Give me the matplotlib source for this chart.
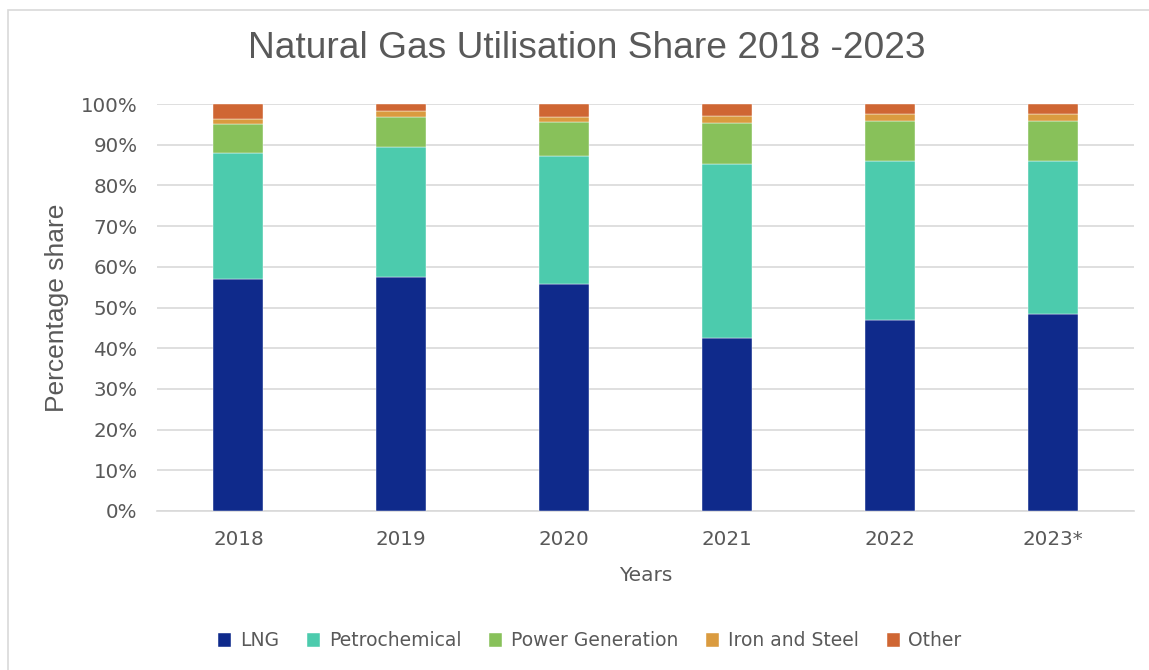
import matplotlib
matplotlib.use("Agg")
import matplotlib.pyplot as plt
from matplotlib.patches import Rectangle
import numpy as np

years = ["2018", "2019", "2020", "2021", "2022", "2023*"]
lng = [57.0, 57.5, 55.8, 42.5, 46.9, 48.4]
petrochemical = [31.0, 31.9, 31.5, 42.7, 39.0, 37.7]
power_generation = [7.0, 7.4, 8.2, 10.2, 10.0, 9.7]
iron_and_steel = [1.2, 1.6, 1.3, 1.7, 1.6, 1.7]
other = [3.8, 1.6, 3.2, 2.9, 2.5, 2.5]

series_names = ["LNG", "Petrochemical", "Power Generation", "Iron and Steel", "Other"]
series = [lng, petrochemical, power_generation, iron_and_steel, other]
colors = ["#0F2A8B", "#4CCBAD", "#88C15A", "#DA9B3F", "#CF6633"]

yticks = [0, 10, 20, 30, 40, 50, 60, 70, 80, 90, 100]
ytick_labels = [f"{v}%" for v in yticks]

txt = "#595959"
fig = plt.figure(figsize=(11.49, 6.70), dpi=100)
fig.patch.set_facecolor("white")
# outer chart frame
fig.patches.append(Rectangle((8 / 1149, -0.1), 1.2, 1 - 10 / 670 + 0.1,
                             transform=fig.transFigure, fill=False,
                             edgecolor="#D9D9D9", linewidth=1.2))

ax = fig.add_axes([157 / 1149, 1 - 511 / 670, (1134 - 157) / 1149, (511 - 104) / 670])
x = np.arange(len(years))
bottom = np.zeros(len(years))
handles = []
for name, vals, c in zip(series_names, series, colors):
    vals = np.array(vals)
    b = ax.bar(x, vals, 0.307, bottom=bottom, color=c, label=name, zorder=3,
               edgecolor="white", linewidth=0.3)
    handles.append(b)
    bottom = bottom + vals

ax.set_xlim(-0.5, len(years) - 0.5)
ax.set_ylim(0, 100)
ax.set_yticks(yticks)
ax.set_yticklabels(ytick_labels)
ax.set_xticks(x)
ax.set_xticklabels(years)
ax.grid(axis="y", color="#D9D9D9", linewidth=1.2, zorder=0)
ax.set_axisbelow(True)
for s in ["top", "right", "left"]:
    ax.spines[s].set_visible(False)
ax.spines["bottom"].set_color("#D9D9D9")
ax.spines["bottom"].set_linewidth(1.2)
ax.tick_params(axis="both", length=0, labelsize=14.3, labelcolor=txt)
ax.tick_params(axis="y", pad=14)
ax.tick_params(axis="x", pad=14)
for lab in ax.get_xticklabels() + ax.get_yticklabels():
    lab.set_family("DejaVu Sans")

ax.set_xlabel("Years", fontsize=14.5, color=txt, labelpad=12, family="DejaVu Sans")
fig.text(57 / 1149, 1 - 308 / 670, "Percentage share", rotation=90, fontsize=19,
         color=txt, ha="center", va="center", family="Liberation Sans")
fig.text(587 / 1149, 1 - 48 / 670, "Natural Gas Utilisation Share 2018 -2023",
         fontsize=26.7, color=txt, ha="center", va="center", family="Liberation Sans")

leg = fig.legend(handles=handles, labels=series_names, loc="center",
                 bbox_to_anchor=(590 / 1149, 1 - 641 / 670), ncol=5, frameon=False,
                 handlelength=0.7, handleheight=0.7, handletextpad=0.45,
                 columnspacing=1.5, prop={"family": "DejaVu Sans", "size": 13.5})
for t in leg.get_texts():
    t.set_color(txt)

fig.savefig("out.png", dpi=100)
